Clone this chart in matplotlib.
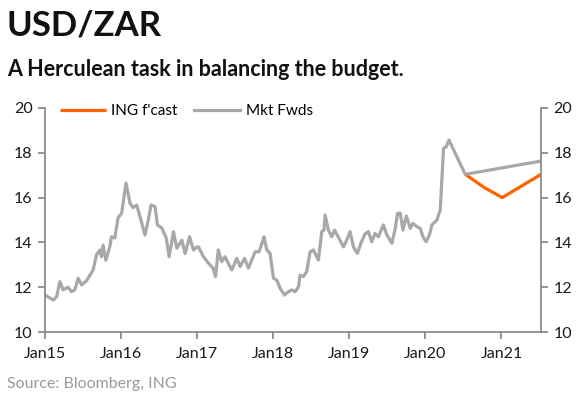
import matplotlib
matplotlib.use('Agg')
import matplotlib.pyplot as plt
import matplotlib.dates as mdates
import pandas as pd

# USD/ZAR spot history
hist_dates = [
    '2015-01-01', '2015-02-10', '2015-02-26', '2015-03-13', '2015-03-29', '2015-04-22',
    '2015-05-08', '2015-05-24', '2015-06-09', '2015-06-26', '2015-07-20', '2015-08-20',
    '2015-09-05', '2015-09-21', '2015-09-29', '2015-10-07', '2015-10-20', '2015-11-08',
    '2015-11-16', '2015-12-02', '2015-12-18', '2016-01-04', '2016-01-25', '2016-02-13',
    '2016-02-28', '2016-03-16', '2016-04-01', '2016-04-25', '2016-05-11', '2016-05-24',
    '2016-06-12', '2016-06-24', '2016-07-15', '2016-08-05', '2016-08-19', '2016-09-09',
    '2016-09-25', '2016-10-19', '2016-11-04', '2016-11-25', '2016-12-14', '2016-12-31',
    '2017-01-07', '2017-01-31', '2017-02-24', '2017-03-18', '2017-03-30', '2017-04-12',
    '2017-04-28', '2017-05-14', '2017-05-30', '2017-06-16', '2017-07-10', '2017-07-26',
    '2017-08-16', '2017-09-04', '2017-10-06', '2017-10-25', '2017-11-18', '2017-12-01',
    '2017-12-17', '2018-01-02', '2018-01-18', '2018-02-03', '2018-02-24', '2018-03-15',
    '2018-03-31', '2018-04-16', '2018-05-02', '2018-05-10', '2018-05-26', '2018-06-11',
    '2018-06-27', '2018-07-13', '2018-08-06', '2018-08-22', '2018-09-02', '2018-09-07',
    '2018-09-23', '2018-10-09', '2018-10-22', '2018-11-09', '2018-12-04', '2018-12-20',
    '2019-01-05', '2019-01-21', '2019-02-09', '2019-02-26', '2019-03-18', '2019-04-03',
    '2019-04-19', '2019-05-05', '2019-05-21', '2019-06-14', '2019-07-01', '2019-07-25',
    '2019-08-10', '2019-08-21', '2019-09-03', '2019-09-16', '2019-10-02', '2019-10-21',
    '2019-11-03', '2019-11-22', '2019-12-08', '2019-12-21', '2020-01-05', '2020-01-21',
    '2020-02-02', '2020-02-26', '2020-03-13', '2020-03-29', '2020-04-11', '2020-04-24',
]
hist_vals = [
    11.65, 11.43, 11.58, 12.25, 11.88, 12.00,
    11.80, 11.88, 12.40, 12.10, 12.30, 12.77,
    13.44, 13.66, 13.36, 13.88, 13.20, 13.80,
    14.25, 14.20, 15.10, 15.30, 16.65, 15.75,
    15.55, 15.67, 15.15, 14.33, 15.00, 15.67,
    15.60, 14.78, 14.64, 14.20, 13.36, 14.48,
    13.74, 14.10, 13.50, 14.25, 13.66, 13.80,
    13.80, 13.36, 13.07, 12.85, 12.47, 13.66,
    13.14, 13.36, 13.07, 12.77, 13.29, 12.92,
    13.29, 12.85, 13.58, 13.58, 14.25, 13.66,
    13.51, 12.40, 12.32, 11.95, 11.65, 11.80,
    11.88, 11.80, 12.00, 12.54, 12.47, 12.70,
    13.58, 13.66, 13.21, 14.48, 14.55, 15.22,
    14.55, 14.25, 14.55, 14.25, 13.80, 14.10,
    14.48, 13.80, 13.51, 13.96, 14.38, 14.48,
    14.03, 14.40, 14.25, 14.78, 14.33, 13.96,
    14.63, 15.30, 15.30, 14.55, 15.18, 14.63,
    14.85, 14.70, 14.63, 14.25, 14.03, 14.33,
    14.78, 15.00, 15.45, 18.20, 18.27, 18.57,
]

# market forwards
fwd_dates = ['2020-07-11', '2021-07-10']
fwd_vals = [17.04, 17.63]

# ING forecast
fc_dates = ['2020-07-11', '2020-10-12', '2021-01-05', '2021-07-10']
fc_vals = [17.04, 16.44, 16.00, 17.04]

orange = '#FF6200'
grey = '#A8A8A8'
axis_col = '#8C8C8C'

plt.rcParams['font.family'] = ['Lato', 'DejaVu Sans']

fig = plt.figure(figsize=(5.78, 3.96), dpi=100)
ax = fig.add_axes([0.0779, 0.1616, 0.8581, 0.5657])

mkt_x = pd.to_datetime(hist_dates + fwd_dates)
mkt_y = hist_vals + fwd_vals

l1, = ax.plot(pd.to_datetime(fc_dates), fc_vals, color=orange, lw=2.3,
              solid_capstyle='butt', label="ING f'cast")
l2, = ax.plot(mkt_x, mkt_y, color=grey, lw=2.3, solid_joinstyle='round',
              label='Mkt Fwds')

ax.set_ylim(10, 20)
ax.set_yticks(range(10, 21, 2))
ax.set_xlim(pd.Timestamp('2015-01-01'), pd.Timestamp('2021-07-10'))
ax.xaxis.set_major_locator(mdates.YearLocator())
ax.xaxis.set_major_formatter(mdates.DateFormatter('%b%y'))

for s in ['left', 'right', 'bottom']:
    ax.spines[s].set_color(axis_col)
    ax.spines[s].set_linewidth(1.3)
ax.spines['top'].set_visible(False)

ax.tick_params(axis='y', which='both', left=True, right=True, labelleft=True,
               labelright=True, length=5, width=1.3, color=axis_col,
               labelsize=11.5, pad=4, labelcolor='#1a1a1a')
ax.tick_params(axis='x', length=5, width=1.3, color=axis_col, labelsize=11.5,
               pad=6, labelcolor='#1a1a1a')

ax.legend(handles=[l1, l2], loc='upper left', bbox_to_anchor=(0.018, 1.045),
          ncol=2, frameon=False, fontsize=11, handlelength=3.0,
          handletextpad=0.35, columnspacing=1.1, borderaxespad=0)

fig.text(0.012, 0.975, 'USD/ZAR', fontsize=25, fontweight='bold',
         va='top', ha='left', color='#111111')
fig.text(0.012, 0.852, 'A Herculean task in balancing the budget.', fontsize=15.5,
         fontweight='bold', va='top', ha='left', color='#111111')
fig.text(0.012, 0.012, 'Source: Bloomberg, ING', fontsize=11.5, color='#9a9a9a',
         va='bottom', ha='left')

fig.savefig('out.png', dpi=100)
